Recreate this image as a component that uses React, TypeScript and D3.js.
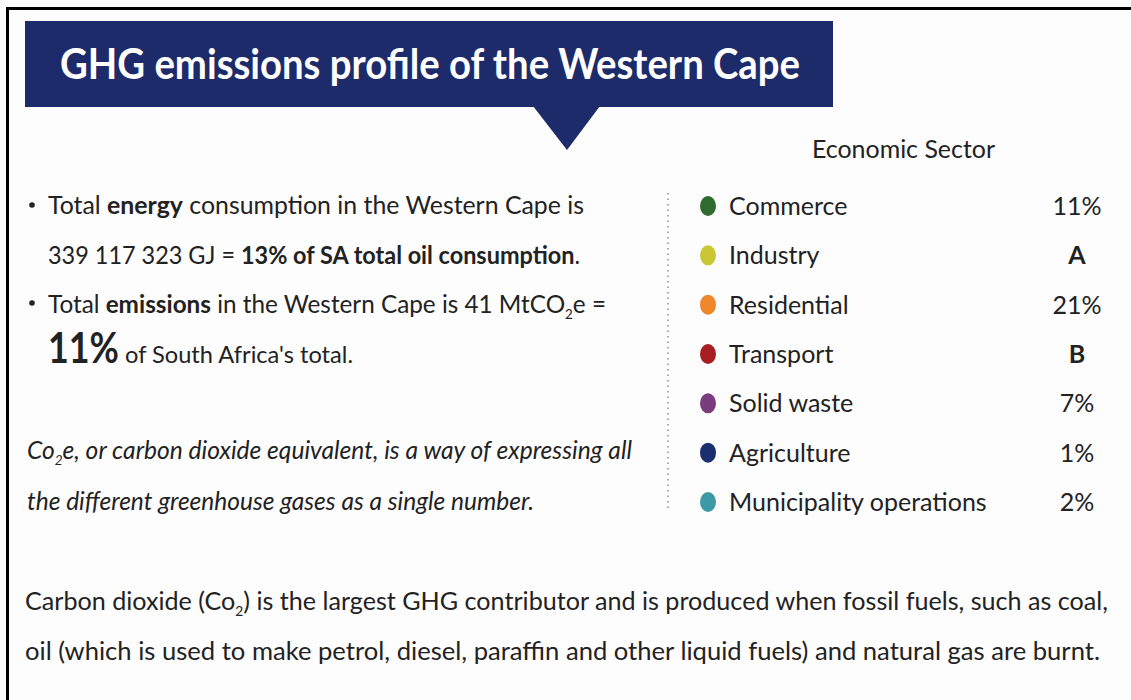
import React from 'react';
import * as d3 from 'd3';

// Chart content
const titleText = 'GHG emissions profile of the Western Cape';
const legendTitle = 'Economic Sector';
const sectors = ['Commerce', 'Industry', 'Residential', 'Transport', 'Solid waste', 'Agriculture', 'Municipality operations'];
const sectorShares = ['11%', 'A', '21%', 'B', '7%', '1%', '2%'];
const sectorColors = ['#2f6a2f', '#c9c735', '#f0862a', '#a81d22', '#7a3c7c', '#1b2f6f', '#3b9aa3'];
const energyTotal = '339 117 323 GJ';
const energyShare = '13%';
const emissionsTotal = '41';
const emissionsShare = '11%';

const W = 1131;
const H = 700;
const NAVY = '#1e2b6b';
const INK = '#222';
const FONT = 'Lato, "Open Sans", sans-serif';

// subscript: lowered small text, then the rest raised back up
const Sub = ({ t, rest }: { t: string; rest: string }) => (
  <>
    <tspan fontSize="0.55em" dy={6}>{t}</tspan>
    <tspan dy={-6}>{rest}</tspan>
  </>
);

export default function App() {
  // legend rows placed with a point scale
  const rowY = d3.scalePoint<string>().domain(sectors).range([206, 502]);
  const color = d3.scaleOrdinal<string, string>().domain(sectors).range(sectorColors);
  const shareOf = new Map(sectors.map((s, i) => [s, sectorShares[i]]));

  return (
    <div style={{ position: 'absolute', left: 0, top: 0 }}>
      <svg width={W} height={H} style={{ display: 'block', background: '#fdfdfd' }} fontFamily={FONT}>
        {/* frame */}
        <line x1={7.5} y1={7} x2={7.5} y2={H} stroke="#000" strokeWidth={3} />
        <line x1={6} y1={8.5} x2={W} y2={8.5} stroke="#000" strokeWidth={3} />

        {/* banner */}
        <rect x={25} y={21} width={808} height={86} fill={NAVY} />
        <path d={d3.line()([[533, 106], [600, 106], [567, 150]]) + 'Z'} fill={NAVY} />
        <text x={60} y={79} fill="#fff" fontSize={42} fontWeight={700} textLength={740} lengthAdjust="spacingAndGlyphs">
          {titleText}
        </text>

        {/* bullets */}
        <g fill={INK} fontSize={25}>
          <circle cx={32} cy={205} r={2.8} />
          <text x={48} y={214} textLength={536} lengthAdjust="spacingAndGlyphs">
            Total <tspan fontWeight={700}>energy</tspan> consumption in the Western Cape is
          </text>
          <text x={48} y={264} textLength={532} lengthAdjust="spacingAndGlyphs">
            {energyTotal} = <tspan fontWeight={700}>{energyShare} of SA total oil consumption</tspan>.
          </text>
          <circle cx={32} cy={303} r={2.8} />
          <text x={48} y={313} textLength={558} lengthAdjust="spacingAndGlyphs">
            Total <tspan fontWeight={700}>emissions</tspan> in the Western Cape is {emissionsTotal} MtCO
            <Sub t="2" rest="e =" />
          </text>
          <text x={48} y={363} fontSize={42} fontWeight={700} textLength={71} lengthAdjust="spacingAndGlyphs">
            {emissionsShare}
          </text>
          <text x={125} y={363} fontSize={24} textLength={228} lengthAdjust="spacingAndGlyphs">
            of South Africa's total.
          </text>
        </g>

        {/* italic note */}
        <g fill={INK} fontSize={25} fontStyle="italic">
          <text x={27} y={459} textLength={605} lengthAdjust="spacingAndGlyphs">
            Co<Sub t="2" rest="e, or carbon dioxide equivalent, is a way of expressing all" />
          </text>
          <text x={27} y={510} textLength={507} lengthAdjust="spacingAndGlyphs">
            the different greenhouse gases as a single number.
          </text>
        </g>

        {/* dotted divider */}
        <line x1={668} y1={193} x2={668} y2={512} stroke="#aaa" strokeWidth={2} strokeDasharray="1.5 4" />

        {/* legend */}
        <text x={812} y={158} fill={INK} fontSize={25} textLength={183} lengthAdjust="spacingAndGlyphs">
          {legendTitle}
        </text>
        {sectors.map((s) => {
          const y = rowY(s) as number;
          const share = shareOf.get(s) as string;
          const isLetter = !share.includes('%');
          return (
            <g key={s}>
              <ellipse cx={708} cy={y} rx={8} ry={10} fill={color(s)} />
              <text x={729} y={y + 9} fill={INK} fontSize={25}>{s}</text>
              <text x={1077} y={y + 9} fill={INK} fontSize={25} textAnchor="middle" fontWeight={isLetter ? 700 : 400}>
                {share}
              </text>
            </g>
          );
        })}

        {/* bottom paragraph */}
        <g fill={INK} fontSize={25}>
          <text x={25} y={610} textLength={1083} lengthAdjust="spacingAndGlyphs">
            Carbon dioxide (Co
            <Sub t="2" rest=") is the largest GHG contributor and is produced when fossil fuels, such as coal," />
          </text>
          <text x={25} y={660} textLength={1075} lengthAdjust="spacingAndGlyphs">
            oil (which is used to make petrol, diesel, paraffin and other liquid fuels) and natural gas are burnt.
          </text>
        </g>
      </svg>
    </div>
  );
}
